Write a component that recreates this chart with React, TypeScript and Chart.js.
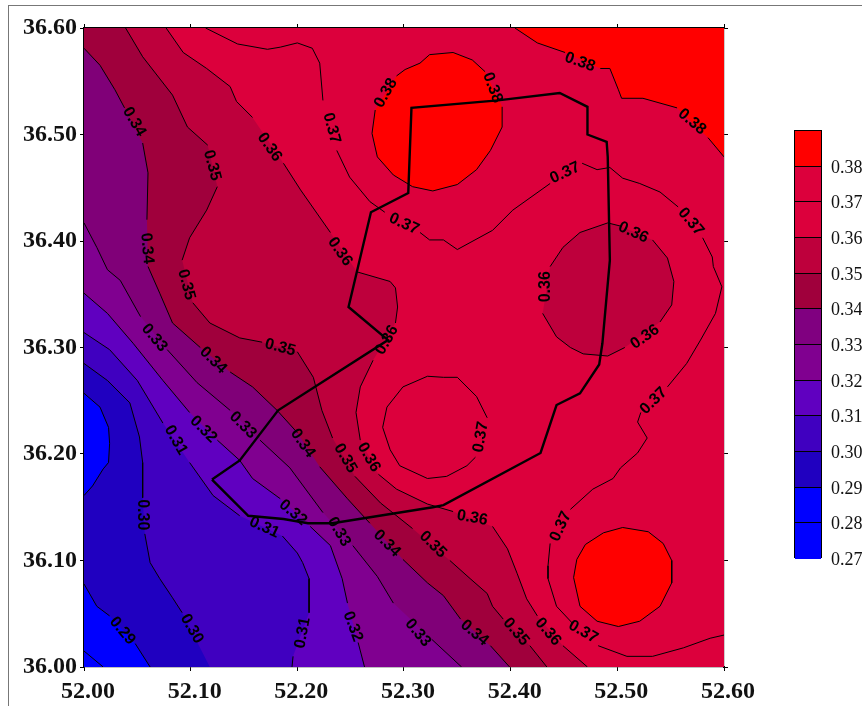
import React, { useEffect, useRef } from "react";
import { Chart, registerables } from "chart.js";

Chart.register(...registerables);

type P = [number, number] | null;

const xTicksMin = 52.0, xTicksMax = 52.6, yTicksMin = 36.0, yTicksMax = 36.6, tickStep = 0.1;

const legendLabels = ["0.38","0.37","0.36","0.35","0.34","0.33","0.32","0.31","0.30","0.29","0.28","0.27"];
const legendColors = ["#ff0000","#dc003c","#dc003c","#be003c","#a0003c","#800080","#800090","#6000c0","#4000c0","#2000c0","#0000ff","#0000ff"];

const band029 = "#2000c0", band030 = "#4000c0", band031 = "#6000c0", band032 = "#800090",
  band033 = "#800078", band034 = "#a0003c", band035 = "#be003c", band036 = "#dc003c", band038 = "#ff0000", bandLow = "#0000ff";

const c028s: P[] = [[52,36.015],[52.018,36.0]];
const c029w: P[] = [[52,36.257],[52.015,36.244],[52.023,36.225],[52.024,36.21],[52.023,36.192],[52.018,36.186],[52.008,36.17],[52,36.161]];
const c029s: P[] = [[52,36.078],[52.012,36.057],[52.024,36.048],null,[52.048,36.022],[52.062,36.0]];
const c030: P[] = [[52,36.285],[52.022,36.269],[52.043,36.248],[52.052,36.216],[52.055,36.192],[52.055,36.159],null,[52.057,36.125],[52.062,36.098],[52.071,36.083],[52.083,36.065],[52.092,36.051],null,[52.118,36.0]];
const c031: P[] = [[52,36.314],[52.024,36.298],[52.05,36.269],[52.074,36.229],null,[52.099,36.192],[52.121,36.161],[52.146,36.142],null,[52.186,36.123],[52.2,36.107],[52.205,36.098],[52.211,36.083],[52.211,36.051],null,[52.196,36.01],[52.195,36.0]];
const c032: P[] = [[52,36.351],[52.022,36.332],[52.046,36.304],[52.074,36.269],[52.099,36.239],null,[52.125,36.213],[52.146,36.194],[52.158,36.177],[52.184,36.158],null,[52.212,36.132],[52.231,36.114],[52.242,36.083],[52.247,36.06],null,[52.257,36.023],[52.263,36.0]];
const c033: P[] = [[52,36.417],[52.012,36.394],[52.022,36.373],[52.034,36.363],[52.053,36.329],null,[52.078,36.298],[52.106,36.267],[52.137,36.241],null,[52.165,36.213],[52.193,36.187],[52.224,36.145],null,[52.252,36.114],[52.275,36.085],[52.29,36.06],null,[52.326,36.026],[52.354,36.0]];
const c034: P[] = [[52,36.581],[52.015,36.565],[52.029,36.542],[52.038,36.525],null,[52.055,36.492],[52.06,36.464],[52.059,36.42],null,[52.06,36.376],[52.071,36.351],[52.083,36.323],[52.109,36.3],null,[52.137,36.277],[52.158,36.263],[52.181,36.241],[52.2,36.22],null,[52.221,36.188],[52.247,36.158],[52.268,36.135],null,[52.299,36.101],[52.322,36.079],[52.337,36.067],[52.353,36.045],null,[52.381,36.02],[52.399,36.0]];
const c035: P[] = [[52.039,36.6],[52.055,36.573],[52.083,36.537],[52.097,36.507],[52.116,36.49],null,[52.125,36.451],[52.115,36.429],[52.099,36.403],[52.092,36.382],null,[52.102,36.342],[52.118,36.323],[52.146,36.309],[52.167,36.305],null,[52.2,36.296],[52.215,36.272],[52.223,36.241],[52.233,36.215],null,[52.254,36.179],[52.278,36.154],[52.308,36.13],null,[52.343,36.1],[52.362,36.083],[52.378,36.069],[52.383,36.057],[52.393,36.045],null,[52.418,36.02],[52.434,36.0]];
const c036: P[] = [[52.077,36.6],[52.093,36.577],[52.115,36.562],[52.137,36.545],[52.143,36.531],[52.158,36.516],null,[52.187,36.473],[52.203,36.448],[52.231,36.408],null,[52.256,36.371],[52.287,36.362],[52.292,36.356],[52.294,36.338],[52.292,36.323],null,[52.271,36.288],[52.259,36.263],[52.255,36.239],[52.259,36.213],null,[52.276,36.181],[52.293,36.167],[52.322,36.153],[52.346,36.146],null,[52.383,36.132],[52.397,36.111],[52.406,36.088],[52.415,36.064],[52.425,36.048],null,[52.449,36.02],[52.472,36.0]];
const c037: P[] = [[52.114,36.6],[52.144,36.585],[52.172,36.58],[52.184,36.582],[52.2,36.586],[52.214,36.581],[52.221,36.567],[52.224,36.532],null,[52.237,36.485],[52.249,36.46],[52.268,36.437],[52.282,36.427],null,[52.315,36.408],[52.324,36.401],[52.337,36.401],[52.35,36.392],[52.383,36.41],[52.402,36.429],[52.437,36.454],null,[52.467,36.473],[52.481,36.467],[52.493,36.469],[52.505,36.459],[52.521,36.454],[52.54,36.446],[52.557,36.432],null,[52.58,36.403],[52.589,36.385],[52.59,36.376],[52.598,36.357],[52.592,36.332],[52.578,36.307],[52.565,36.285],[52.547,36.263],null,[52.522,36.239],[52.519,36.23],[52.528,36.215],[52.519,36.201],[52.503,36.187],[52.496,36.177],[52.477,36.167],[52.456,36.148],null,[52.437,36.116],[52.435,36.095],[52.435,36.083],[52.443,36.057],[52.458,36.041],null,[52.482,36.02],[52.509,36.01],[52.533,36.01],[52.562,36.018],[52.587,36.027],[52.6,36.03]];
const c037b: P[] = [[52.378,36.234],[52.368,36.254],[52.35,36.272],[52.337,36.272],[52.322,36.273],[52.299,36.263],[52.284,36.244],[52.28,36.225],[52.287,36.204],[52.296,36.189],[52.322,36.177],[52.34,36.179],[52.359,36.189],[52.367,36.197]];
const c036e: P[] = [[52.533,36.401],[52.547,36.384],[52.553,36.362],[52.551,36.34],[52.54,36.324],null,[52.507,36.3],[52.491,36.292],[52.468,36.294],[52.456,36.3],[52.443,36.31],[52.43,36.332],null,[52.437,36.376],[52.449,36.394],[52.465,36.408],[52.491,36.417],[52.503,36.414]];
const c038n: P[] = [[52.273,36.523],[52.27,36.501],[52.275,36.479],[52.29,36.462],[52.308,36.451],[52.327,36.447],[52.35,36.453],[52.368,36.467],[52.381,36.485],[52.392,36.507],[52.392,36.526],null,[52.376,36.559],[52.364,36.57],[52.346,36.577],[52.324,36.575],[52.315,36.567],[52.301,36.561],[52.293,36.555]];
const c038se: P[] = [[52.459,36.084],[52.462,36.101],[52.47,36.115],[52.487,36.126],[52.505,36.131],[52.529,36.127],[52.543,36.116],[52.551,36.1],[52.551,36.079],[52.54,36.057],[52.521,36.043],[52.501,36.038],[52.481,36.043],[52.465,36.057],[52.459,36.084]];
const c038ne: P[] = [[52.404,36.6],[52.425,36.586],[52.451,36.577],null,[52.484,36.562],[52.493,36.562],[52.501,36.542],[52.504,36.534],[52.524,36.534],[52.556,36.525],null,[52.585,36.497],[52.6,36.479]];

const studyArea: P[] = [[52.12,36.176],[52.154,36.142],[52.187,36.139],[52.21,36.135],[52.233,36.135],[52.327,36.15],[52.337,36.152],[52.428,36.201],[52.443,36.246],[52.465,36.257],[52.483,36.284],[52.486,36.304],[52.493,36.382],[52.491,36.479],[52.49,36.493],[52.472,36.5],[52.472,36.526],[52.446,36.539],[52.388,36.532],[52.307,36.525],[52.304,36.445],[52.269,36.427],[52.248,36.338],[52.285,36.307],[52.182,36.241],[52.146,36.194],[52.12,36.176]];

const contourLabels: [number, number, string, number][] = [
  [52.047,36.512,"0.34",60],[52.12,36.471,"0.35",75],[52.174,36.488,"0.36",55],[52.232,36.506,"0.37",75],
  [52.283,36.539,"0.38",-60],[52.383,36.544,"0.38",70],[52.465,36.568,"0.38",20],[52.57,36.512,"0.38",40],
  [52.451,36.464,"0.37",-25],[52.3,36.416,"0.37",25],[52.569,36.418,"0.37",50],[52.515,36.408,"0.36",25],
  [52.24,36.39,"0.36",55],[52.059,36.393,"0.34",85],[52.096,36.359,"0.35",75],[52.433,36.357,"0.36",-90],
  [52.526,36.31,"0.36",-35],[52.066,36.309,"0.33",50],[52.121,36.288,"0.34",45],[52.184,36.3,"0.35",15],
  [52.284,36.307,"0.36",-60],[52.112,36.223,"0.32",45],[52.149,36.227,"0.33",45],[52.086,36.213,"0.31",60],
  [52.534,36.25,"0.37",-45],[52.372,36.216,"0.37",-80],[52.205,36.21,"0.34",55],[52.245,36.196,"0.35",60],
  [52.267,36.197,"0.36",60],[52.055,36.143,"0.30",90],[52.364,36.14,"0.36",10],[52.327,36.115,"0.35",45],
  [52.284,36.116,"0.34",45],[52.239,36.127,"0.33",60],[52.196,36.145,"0.32",40],[52.169,36.131,"0.31",25],
  [52.447,36.132,"0.37",-65],[52.036,36.034,"0.29",50],[52.101,36.036,"0.30",60],[52.205,36.032,"0.31",-80],
  [52.252,36.038,"0.32",70],[52.313,36.032,"0.33",50],[52.366,36.032,"0.34",40],[52.405,36.033,"0.35",50],
  [52.435,36.033,"0.36",50],[52.468,36.033,"0.37",30],
];

const toXY = (pts: P[]) => pts.map((p) => (p ? { x: p[0], y: p[1] } : { x: NaN, y: NaN }));
const solid = (pts: P[]) => pts.filter(Boolean) as [number, number][];

const SE: [number, number] = [xTicksMax, yTicksMin];
const NE: [number, number] = [xTicksMax, yTicksMax];
const NW: [number, number] = [xTicksMin, yTicksMax];
const SW: [number, number] = [xTicksMin, yTicksMin];

const area = (pts: [number, number][], color: string) => ({
  type: "scatter" as const,
  data: pts.map((p) => ({ x: p[0], y: p[1] })),
  showLine: true,
  fill: "shape",
  backgroundColor: color,
  borderWidth: 0,
  pointRadius: 0,
  tension: 0,
});
const line = (pts: P[], width = 1) => ({
  type: "scatter" as const,
  data: toXY(pts),
  showLine: true,
  fill: false,
  borderColor: "#000000",
  borderWidth: width,
  pointRadius: 0,
  tension: 0,
  spanGaps: false,
});

const labelPlugin = {
  id: "contourLabels",
  afterDatasetsDraw(chart: any) {
    const { ctx, scales } = chart;
    ctx.save();
    ctx.fillStyle = "#000";
    ctx.font = 'bold 16px "Liberation Sans"';
    ctx.textAlign = "center";
    ctx.textBaseline = "middle";
    for (const [x, y, text, angle] of contourLabels) {
      ctx.save();
      ctx.translate(scales.x.getPixelForValue(x), scales.y.getPixelForValue(y));
      ctx.rotate((angle * Math.PI) / 180);
      ctx.fillText(text, 0, 0);
      ctx.restore();
    }
    ctx.restore();
  },
};

export default function App() {
  const ref = useRef<HTMLCanvasElement>(null);
  useEffect(() => {
    if (!ref.current) return;
    const painted = [
      area([SW, NW, NE, SE], band029),
      area(solid(c029w), bandLow),
      area([...solid(c029s), SW], bandLow),
      area([...solid(c030), SE, NE, NW], band030),
      area([...solid(c031), SE, NE, NW], band031),
      area([...solid(c032), SE, NE, NW], band032),
      area([...solid(c033), SE, NE, NW], band033),
      area([...solid(c034), SE, NE, NW], band034),
      area([...solid(c035), SE, NE], band035),
      area([...solid(c036), SE, NE], band036),
      area(solid(c036e), band035),
      area(solid(c038n), band038),
      area(solid(c038se), band038),
      area([...solid(c038ne), NE], band038),
      line(c028s), line(c029w), line(c029s), line(c030), line(c031), line(c032), line(c033),
      line(c034), line(c035), line(c036), line(c037), line(c037b), line(c036e), line(c038n),
      line(c038se), line(c038ne),
      line(studyArea, 2.4),
    ];
    const tickFont = { family: '"Liberation Serif"', size: 24, weight: "bold" as const };
    const grid = { drawOnChartArea: false, drawTicks: true, tickLength: 4, color: "#000" };
    const border = { color: "#000", width: 1.2 };
    const linear = { type: "linear" as const, min: xTicksMin, max: xTicksMax };
    const chart = new Chart(ref.current, {
      type: "scatter",
      data: { datasets: painted.reverse() as any },
      plugins: [labelPlugin],
      options: {
        animation: false,
        responsive: false,
        layout: { padding: { top: 28, right: 138, left: 0, bottom: 0 } },
        plugins: { legend: { display: false }, tooltip: { enabled: false } },
        scales: {
          x: {
            ...linear, position: "bottom", grid, border,
            ticks: { stepSize: tickStep, color: "#111", font: tickFont, maxRotation: 0, padding: 6, labelOffset: 4, autoSkip: false, callback: (v: any) => Number(v).toFixed(2) },
            afterFit: (s: any) => { s.height = 39; },
          },
          x2: {
            ...linear, position: "top", grid, border,
            ticks: { stepSize: tickStep, display: false },
            afterFit: (s: any) => { s.height = 0; },
          },
          y: {
            type: "linear", min: yTicksMin, max: yTicksMax, position: "left", grid, border,
            ticks: { stepSize: tickStep, color: "#111", font: tickFont, padding: 3, autoSkip: false, callback: (v: any) => Number(v).toFixed(2) },
            afterFit: (s: any) => { s.width = 84; },
          },
          y2: {
            type: "linear", min: yTicksMin, max: yTicksMax, position: "right", grid, border,
            ticks: { stepSize: tickStep, display: false },
            afterFit: (s: any) => { s.width = 0; },
          },
        },
      } as any,
    });
    return () => chart.destroy();
  }, []);

  const rowH = 35.67;
  return (
    <div style={{ position: "fixed", left: 0, top: 0, width: 862, height: 706, overflow: "hidden", background: "#fff" }}>
      <div style={{ position: "absolute", left: 8, top: 5, right: -2, bottom: -2, borderLeft: "1px solid #777", borderTop: "1px solid #777" }} />
      <canvas ref={ref} width={862} height={706} style={{ position: "absolute", left: 0, top: 0, display: "block" }} />
      <div style={{ position: "absolute", left: 794, top: 130, width: 28, height: rowH * 12, border: "1px solid #000", boxSizing: "border-box" }}>
        {legendColors.map((c, i) => (
          <div key={i} style={{ height: rowH, boxSizing: "border-box", background: c, borderBottom: i < 11 ? "1px solid #000" : "none" }} />
        ))}
      </div>
      {legendLabels.map((t, i) => (
        <div key={t} style={{ position: "absolute", left: 831, top: 130 + rowH * (i + 1) - 11, font: '18px/24px "Liberation Serif"', color: "#111", whiteSpace: "nowrap" }}>{t}</div>
      ))}
    </div>
  );
}
